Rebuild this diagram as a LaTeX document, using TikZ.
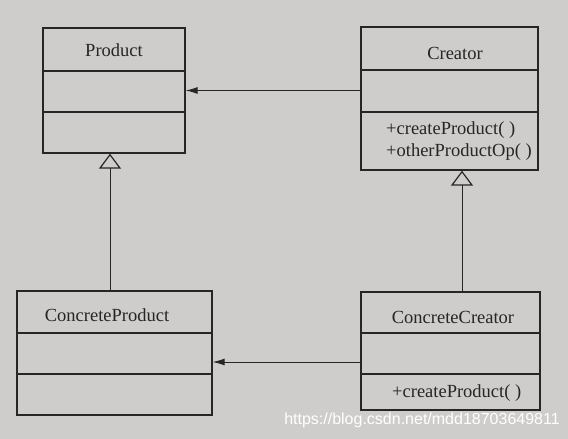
\documentclass[tikz,border=0pt]{standalone}
\usepackage{fontspec}
\setmainfont{Liberation Serif}
\newfontfamily\wmfont{Liberation Sans}
\usetikzlibrary{arrows.meta}
\definecolor{paper}{RGB}{206,205,203}
\definecolor{ink}{RGB}{38,38,38}
\begin{document}
\begin{tikzpicture}[x=1pt,y=-1pt,
	class/.style={draw=ink,line width=1.3pt,inner sep=0pt},
	divider/.style={ink,line width=1.3pt},
	label/.style={text=ink,font=\fontsize{18.5}{20}\selectfont,inner sep=0pt},
	assoc/.style={ink,line width=1pt,-{Latex[length=12pt,width=7pt]}},
	inherit/.style={ink,line width=1pt,-{Triangle[open,length=15pt,width=22pt,line width=1.2pt]}}]
	\fill[paper] (0,0) rectangle (568,439);
	\useasboundingbox (0,0) rectangle (568,439);

	\node[class,minimum width=142pt,minimum height=125pt] at (114,90.5) (product) {};
	\node[class,minimum width=177pt,minimum height=143pt] at (449.5,98.5) (creator) {};
	\node[class,minimum width=195pt,minimum height=124pt] at (114.5,353) (cproduct) {};
	\node[class,minimum width=179pt,minimum height=118pt] at (450.5,351) (ccreator) {};

	\draw[divider] (43,71) -- (185,71);
	\draw[divider] (43,112) -- (185,112);
	\draw[divider] (361,70) -- (538,70);
	\draw[divider] (361,112) -- (538,112);
	\draw[divider] (17,333) -- (212,333);
	\draw[divider] (17,374) -- (212,374);
	\draw[divider] (361,333) -- (540,333);
	\draw[divider] (361,374) -- (540,374);

	\node[label] at (114,50) (productname) {Product};
	\node[label] at (455,53) (creatorname) {Creator};
	\node[label,anchor=west] at (386,130) (creatorop1) {+createProduct( )};
	\node[label,anchor=west] at (386,152) (creatorop2) {+otherProductOp( )};
	\node[label] at (107,315) (cproductname) {ConcreteProduct};
	\node[label] at (453,317) (ccreatorname) {ConcreteCreator};
	\node[label,anchor=west] at (392,393) (ccreatorop) {+createProduct( )};

	\draw[assoc]	(creator.west |- product.east) -- (product.east);
	\draw[assoc]	([yshift=-9pt]ccreator.west |- cproduct.east) -- ([yshift=-9pt]cproduct.east);
	\draw[inherit]	([xshift=-4pt]cproduct.north -| product.south) -- ([xshift=-4pt]product.south);
	\draw[inherit]	([xshift=11.5pt]ccreator.north) -- ([xshift=12.5pt]creator.south);

	\node[font=\wmfont\fontsize{16}{18}\selectfont,text=white,inner sep=0pt] at (422,420) (watermark) {https://blog.csdn.net/mdd18703649811};
\end{tikzpicture}
\end{document}
